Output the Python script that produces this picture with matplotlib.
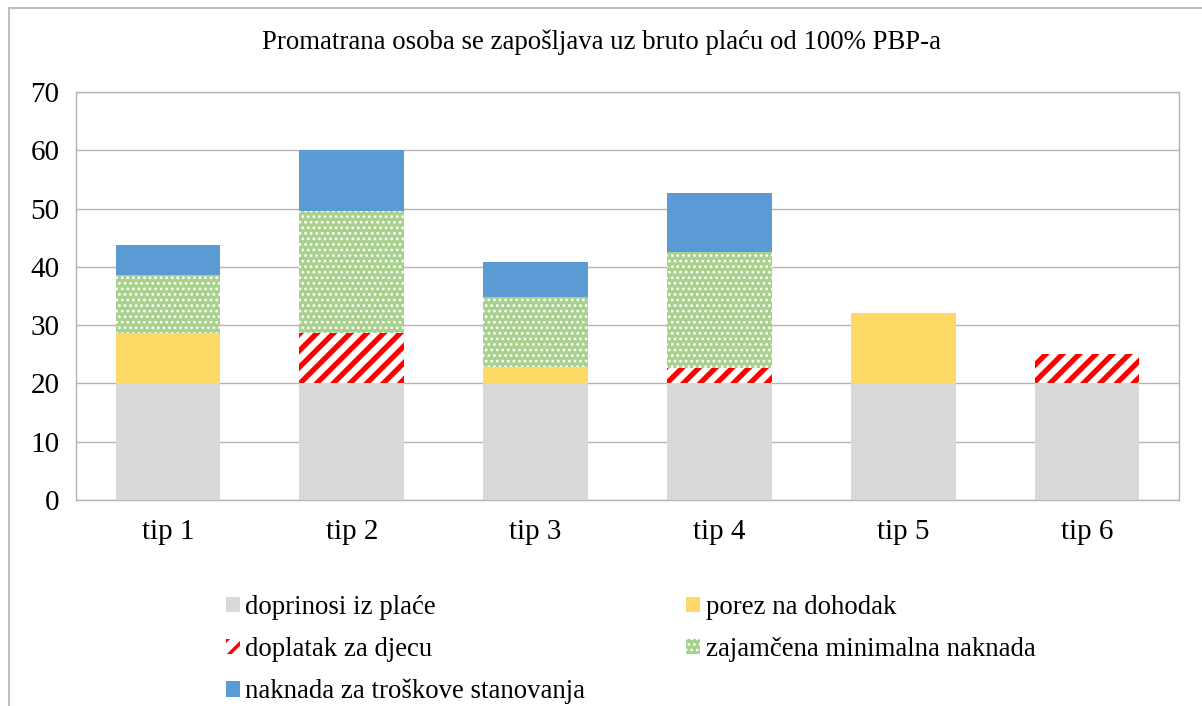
import matplotlib
matplotlib.use("Agg")
import matplotlib.pyplot as plt
from matplotlib.patches import Rectangle
import numpy as np

categories = ["tip 1", "tip 2", "tip 3", "tip 4", "tip 5", "tip 6"]
doprinosi = [20.0, 20.0, 20.0, 20.0, 20.0, 20.0]
porez = [8.6, 0.0, 2.8, 0.0, 12.1, 0.0]
doplatak = [0.0, 8.6, 0.0, 2.6, 0.0, 5.0]
zajamcena = [10.0, 21.0, 12.0, 20.0, 0.0, 0.0]
naknada = [5.1, 10.4, 6.0, 10.0, 0.0, 0.0]

labels = ["doprinosi iz plaće", "porez na dohodak", "doplatak za djecu",
          "zajamčena minimalna naknada", "naknada za troškove stanovanja"]
title = "Promatrana osoba se zapošljava uz bruto plaću od 100% PBP-a"
yticks = [0, 10, 20, 30, 40, 50, 60, 70]

plt.rcParams['font.family'] = ['Liberation Serif', 'DejaVu Serif']

W, H = 1202, 706
fig = plt.figure(figsize=(W / 100, H / 100), dpi=100)
ax = fig.add_axes([76 / W, 1 - 500 / H, (1179 - 76) / W, (500 - 92) / H])

x = np.arange(len(categories))
width = 0.57
series = [
    (doprinosi, dict(color="#D9D9D9", linewidth=0), 1.0),
    (porez, dict(color="#FFD966", linewidth=0), 1.0),
    (doplatak, dict(facecolor="white", edgecolor="#FF0000", linewidth=0, hatch="//"), 3.8),
    (zajamcena, dict(facecolor="#A9D18E", edgecolor="white", linewidth=0, hatch="..."), 1.2),
    (naknada, dict(color="#5B9BD5", linewidth=0), 1.0),
]
hatch_lws = [s[2] for s in series]
bottom = np.zeros(len(categories))
handles = []
for (vals, kw, hlw), lab in zip(series, labels):
    with plt.rc_context({'hatch.linewidth': hlw}):
        bars = ax.bar(x, vals, width, bottom=bottom, label=lab, zorder=3, **kw)
        for b in bars:
            if hasattr(b, "set_hatch_linewidth"):
                b.set_hatch_linewidth(hlw)
    handles.append(bars)
    bottom = bottom + np.array(vals)

ax.set_xlim(-0.5, len(categories) - 0.5)
ax.set_ylim(0, 70)
ax.set_yticks(yticks)
ax.set_xticks(x)
ax.set_xticklabels(categories)
ax.tick_params(axis='both', length=0, labelsize=21)
ax.tick_params(axis='y', pad=12)
ax.tick_params(axis='x', pad=14)
ax.yaxis.grid(True, color="#B4B4B4", linewidth=1.0, zorder=0)
ax.set_axisbelow(True)
for s in ax.spines.values():
    s.set_color("#B4B4B4")
    s.set_linewidth(1.0)

fig.text(0.5, 1 - 42 / H, title, ha='center', va='center', fontsize=19.3)

order = [0, 2, 4, 1, 3]
leg = fig.legend([handles[i] for i in order], [labels[i] for i in order],
                 ncol=2, loc='upper left', bbox_to_anchor=(226 / W, 1 - 595 / H),
                 frameon=False, fontsize=19.3, handlelength=0.52, handleheight=0.52,
                 handletextpad=0.2, labelspacing=0.63, columnspacing=3.77,
                 borderpad=0, borderaxespad=0)
for h, i in zip(leg.legend_handles, order):
    if hasattr(h, "set_hatch_linewidth"):
        h.set_hatch_linewidth(min(hatch_lws[i], 2.5) if i == 2 else hatch_lws[i])

fig.patches.append(Rectangle((9 / W, -0.1), 1.2, 1 - 8 / H + 0.1, transform=fig.transFigure,
                             fill=False, edgecolor="#BFBFBF", linewidth=1.5))

fig.savefig("out.png", dpi=100)
